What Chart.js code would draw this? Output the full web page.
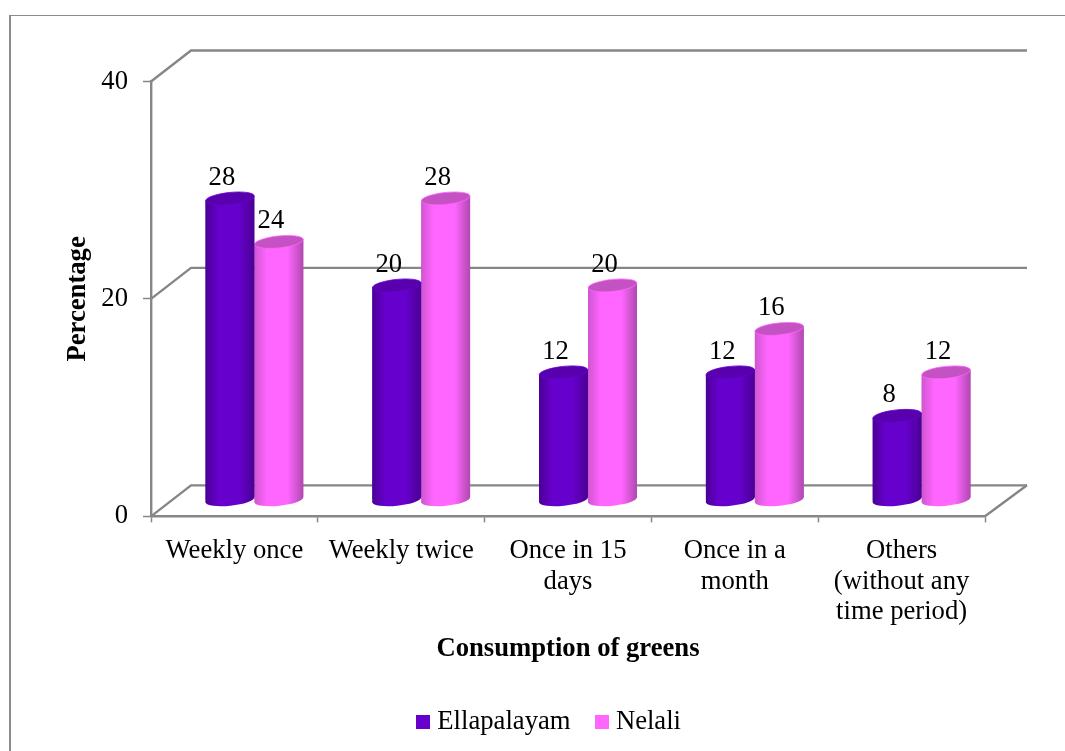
<!DOCTYPE html>
<html><head><meta charset="utf-8">
<style>html,body{margin:0;padding:0;background:#fff;overflow:hidden}
#f{position:absolute;left:9px;top:15px;right:-5px;bottom:-5px;border-left:2px solid #8c8c8c;border-top:1.5px solid #8c8c8c}
#w{position:absolute;left:0;top:0;width:1065px;height:751px}</style>
<script src="https://cdn.jsdelivr.net/npm/chart.js@4/dist/chart.umd.min.js"></script>
</head><body><div id="f"></div><div id="w"><canvas id="c" width="1065" height="751"></canvas></div>
<script>
const categories = ["Weekly once","Weekly twice",["Once in 15","days"],["Once in a","month"],["Others","(without any","time period)"]];
const ellapalayam = [28,20,12,12,8];
const nelali = [24,28,20,16,12];
const yTicks = [0,20,40];
const seriesNames = ["Ellapalayam","Nelali"];
const seriesColors = ["#6600cc","#ff66ff"];
const edgeColors = [["#4a0094","#4a0094"],["#d055d0","#b048b0"]];
const capColors = ["#5800ae","#c552c2"];
const FONT = "'Liberation Serif','Times New Roman',serif";
const FS = 26.67;
const DX=40, DY=31, GREY="#868686", TILT=-6*Math.PI/180, RY=6, DROP=2.5;
const off={x:20,y:-16};

function barW(ch){const x=ch.scales.x;return (x.right-x.left)/categories.length*0.587/2;}
function bodyGrad(ch,ds,i){
  const x=ch.scales.x, w=barW(ch);
  const l=x.getPixelForValue(i)+(ds===0?-w:0), g=ch.ctx.createLinearGradient(l,0,l+w,0);
  g.addColorStop(0,edgeColors[ds][0]);g.addColorStop(.26,seriesColors[ds]);
  g.addColorStop(.68,seriesColors[ds]);g.addColorStop(1,edgeColors[ds][1]);return g;
}
function swatch(color){const c=document.createElement('canvas');c.width=14;c.height=14;
  const k=c.getContext('2d');k.fillStyle=color;k.fillRect(0,0,14,14);return c;}
const perspective={id:'perspective',
  afterLayout(ch){const l=ch.legend;l.left+=28.5;l.right+=28.5;},
  beforeDatasetsDraw(ch){
    const {ctx,scales:{x,y}}=ch;ctx.save();ctx.strokeStyle=GREY;ctx.lineWidth=2.4;
    yTicks.forEach(v=>{const p=y.getPixelForValue(v);
      ctx.beginPath();ctx.moveTo(x.left,p);ctx.lineTo(x.left+DX,p-DY);ctx.lineTo(x.right+DX+2,p-DY);ctx.stroke();});
    const p0=y.getPixelForValue(0);
    ctx.beginPath();ctx.moveTo(x.right,p0);ctx.lineTo(x.right+DX+2,p0-DY);ctx.stroke();
    ctx.restore();
  },
  beforeDatasetDraw(ch,a){
    const {ctx}=ch,meta=ch.getDatasetMeta(a.index),w=barW(ch);
    const t=Math.tan(-TILT)*w/2;
    ctx.save();ctx.translate(off.x,off.y);
    meta.data.forEach((b,i)=>{const cx=b.x,by=b.base,l=cx-w/2,r=cx+w/2,ty=b.y+DROP;
      ctx.fillStyle=bodyGrad(ch,a.index,i);
      ctx.beginPath();ctx.ellipse(cx,by,w/2,RY,TILT,0,Math.PI*2);ctx.fill();
      ctx.beginPath();ctx.moveTo(l,ty+t);ctx.lineTo(r,ty-t);ctx.lineTo(r,by-t);ctx.lineTo(l,by+t);ctx.closePath();ctx.fill();
    });
    ctx.beginPath();
    meta.data.forEach(b=>{const l=b.x-w/2,r=b.x+w/2,ty=b.y+DROP;
      ctx.moveTo(l,ty+t);ctx.lineTo(r,ty-t);ctx.lineTo(r,b.base-t);ctx.lineTo(l,b.base+t);ctx.closePath();});
    ctx.clip();
  },
  afterDatasetDraw(ch,a){
    const {ctx}=ch,meta=ch.getDatasetMeta(a.index),w=barW(ch),ds=a.index;
    ctx.restore();
    ctx.save();ctx.translate(off.x,off.y);
    meta.data.forEach(b=>{
      ctx.fillStyle=capColors[ds];ctx.strokeStyle=seriesColors[ds];ctx.lineWidth=.8;
      ctx.beginPath();ctx.ellipse(b.x,b.y+DROP,w/2,RY,TILT,0,Math.PI*2);ctx.fill();ctx.stroke();
    });
    ctx.restore();
  },
  afterDatasetsDraw(ch){
    const {ctx}=ch;ctx.save();ctx.font=FS+"px "+FONT;ctx.fillStyle="#000";ctx.textAlign="center";ctx.textBaseline="middle";
    ch.data.datasets.forEach((d,di)=>{ch.getDatasetMeta(di).data.forEach((b,i)=>{
      ctx.fillText(String(d.data[i]),b.x+off.x-8,b.y+off.y-18);});});
    ctx.restore();
  }
};
Chart.defaults.font.family=FONT;
new Chart(document.getElementById('c'),{type:'bar',
  data:{labels:categories,datasets:[ellapalayam,nelali].map((d,i)=>({label:seriesNames[i],data:d,
    backgroundColor:c=>bodyGrad(c.chart,c.datasetIndex,c.dataIndex),clip:false,
    categoryPercentage:.587,barPercentage:1}))},
  plugins:[perspective],
  options:{responsive:false,animation:false,
    layout:{padding:{left:62,right:80,top:81.5,bottom:6}},
    plugins:{tooltip:{enabled:false},
      legend:{position:'bottom',labels:{color:"#000",font:{size:FS,family:FONT},usePointStyle:true,pointStyleWidth:1,boxHeight:14,padding:31,
        generateLabels:()=>seriesNames.map((n,i)=>({text:n,fillStyle:seriesColors[i],strokeStyle:seriesColors[i],lineWidth:0,datasetIndex:i,fontColor:"#000",pointStyle:swatch(seriesColors[i])}))}}},
    scales:{
      x:{afterFit:s=>{s.height=161},
        grid:{drawOnChartArea:false,color:GREY,tickColor:GREY,tickLength:6,tickWidth:1.5,offset:true},
        border:{color:GREY,width:2.4},
        ticks:{color:"#000",font:{size:FS,lineHeight:1.13},maxRotation:0,minRotation:0,padding:14,autoSkip:false},
        title:{display:true,text:"Consumption of greens",color:"#000",font:{size:FS,weight:'bold',family:FONT},padding:{top:0,bottom:12}}},
      y:{min:0,max:40,afterFit:s=>{s.width=89},afterBuildTicks:s=>{s.ticks=yTicks.map(v=>({value:v}))},
        grid:{drawOnChartArea:false,color:GREY,tickColor:GREY,tickLength:8,tickWidth:1.5},
        border:{color:GREY,width:2.4},
        ticks:{color:"#000",font:{size:FS},padding:15},
        title:{display:true,text:"Percentage",color:"#000",font:{size:FS,weight:'bold',family:FONT},padding:0}}
    }}});
</script></body></html>
